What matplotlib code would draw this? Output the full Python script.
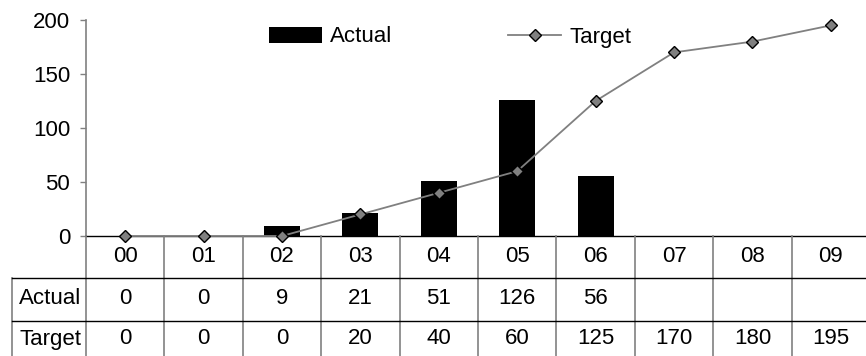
import numpy as np
import matplotlib
matplotlib.use('Agg')
import matplotlib.pyplot as plt

FS = 16
plt.rcParams['font.family'] = ['Liberation Sans', 'DejaVu Sans']
plt.rcParams['font.size'] = FS

categories = ['00', '01', '02', '03', '04', '05', '06', '07', '08', '09']
actual = [0, 0, 9, 21, 51, 126, 56]
target = [0, 0, 0, 20, 40, 60, 125, 170, 180, 195]
row_labels = ['Actual', 'Target']

W, H = 866, 356
GRAY = '#808080'

fig = plt.figure(figsize=(W / 100, H / 100), dpi=100)
ax = fig.add_axes([86 / W, (H - 236) / H, 784 / W, 216 / H])

x = np.arange(len(categories))
bars = ax.bar(x[:len(actual)], actual, width=0.46, color='black', label='Actual', zorder=2)
line, = ax.plot(x, target, color=GRAY, lw=1.3, marker='D', ms=6.5, mfc=GRAY, mec='black',
                mew=1, label='Target', zorder=3, clip_on=False)

ax.set_xlim(-0.5, 9.5)
ax.set_ylim(0, 200)
ax.set_yticks(range(0, 201, 50))
ax.set_xticks([])
ax.spines['top'].set_visible(False)
ax.spines['right'].set_visible(False)
ax.spines['bottom'].set_color('black')
ax.spines['bottom'].set_linewidth(1.0)
ax.spines['bottom'].set_zorder(2.5)
ax.spines['left'].set_color(GRAY)
ax.spines['left'].set_linewidth(1.2)
ax.tick_params(axis='y', direction='out', length=4.3, width=1, color=GRAY, pad=7, labelsize=FS)

ax.legend([bars, line], ['Actual', 'Target'], loc='center left',
          bbox_to_anchor=(269 / W, 1 - 37 / H), bbox_transform=fig.transFigure,
          ncol=2, frameon=False, handlelength=2.4, handletextpad=0.36, columnspacing=5.2,
          borderpad=0, borderaxespad=0, fontsize=FS)

# data table below the plot
colw = 784 / 10
xl = -0.5 - 74 / colw
tab = fig.add_axes([12 / W, 0, (870 - 12) / W, (H - 236) / H])
tab.set_xlim(xl, 9.5)
tab.set_ylim(356, 236)
tab.axis('off')

for k in range(len(categories) + 1):
    tab.plot([k - 0.5, k - 0.5], [236, 356], color=GRAY, lw=1.2, clip_on=False)
tab.plot([xl, xl], [278, 356], color=GRAY, lw=1.2, clip_on=False)
for yy in [278, 321]:
    tab.plot([xl, 9.5], [yy, yy], color='black', lw=1.0, clip_on=False)

for i, c in enumerate(categories):
    tab.text(i, 257, c, ha='center', va='center', fontsize=FS)
for i, v in enumerate(actual):
    tab.text(i, 299, str(v), ha='center', va='center', fontsize=FS)
for i, v in enumerate(target):
    tab.text(i, 339, str(v), ha='center', va='center', fontsize=FS)
for lab, yy in zip(row_labels, [299, 339]):
    tab.text(xl + 7 / colw, yy, lab, ha='left', va='center', fontsize=FS)

fig.savefig('out.png', dpi=100)
